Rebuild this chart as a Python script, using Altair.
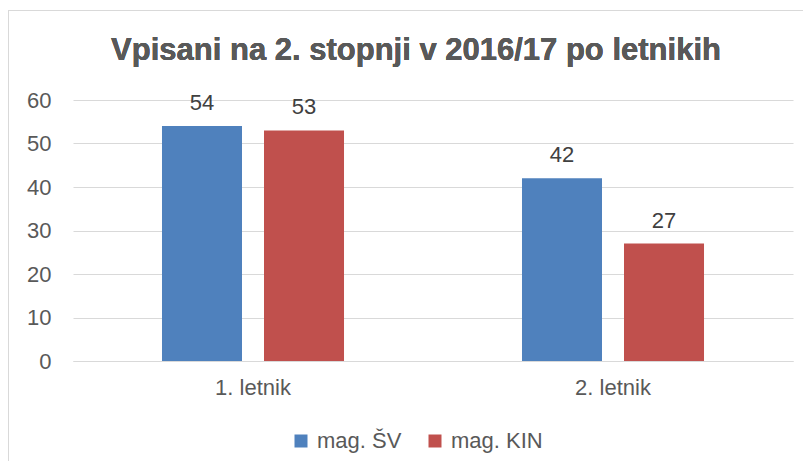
import altair as alt
import pandas as pd

categories = ["1. letnik", "2. letnik"]
series = ["mag. ŠV", "mag. KIN"]
values_sv = [54, 42]
values_kin = [53, 27]
colors = ["#4F81BD", "#C0504D"]
title_text = "Vpisani na 2. stopnji v 2016/17 po letnikih"

rows = []
for i, c in enumerate(categories):
    rows.append({"letnik": c, "program": series[0], "value": values_sv[i]})
    rows.append({"letnik": c, "program": series[1], "value": values_kin[i]})
df = pd.DataFrame(rows)

FONT = "Liberation Sans"
FS = 22

base = alt.Chart(df).encode(
    x=alt.X("letnik:N", sort=categories, title=None,
            scale=alt.Scale(paddingInner=0.4944, paddingOuter=0.2472),
            axis=alt.Axis(labelAngle=0, labelFontSize=FS, labelColor="#595959",
                          labelFont=FONT, ticks=False, domainColor="#D9D9D9",
                          grid=False, labelPadding=16)),
    xOffset=alt.XOffset("program:N", sort=series,
                        scale=alt.Scale(paddingInner=0.2157, paddingOuter=0)),
)

bars = base.mark_bar().encode(
    y=alt.Y("value:Q", title=None,
            scale=alt.Scale(domain=[0, 60]),
            axis=alt.Axis(values=[0, 10, 20, 30, 40, 50, 60], labelFontSize=FS,
                          labelColor="#595959", labelFont=FONT, ticks=False,
                          domain=False, grid=True, gridColor="#D9D9D9",
                          labelPadding=22)),
    color=alt.Color("program:N", sort=series,
                    scale=alt.Scale(domain=series, range=colors),
                    legend=alt.Legend(title=None, orient="none", direction="horizontal",
                                      legendX=217, legendY=330, symbolType="square",
                                      symbolSize=169, symbolStrokeWidth=0,
                                      labelFontSize=FS, labelColor="#595959",
                                      labelFont=FONT, labelOffset=5, columnPadding=22)),
)

labels = base.mark_text(fontSize=FS, font=FONT, color="#404040",
                        baseline="alphabetic", dy=-16).encode(
    y=alt.Y("value:Q"),
    text=alt.Text("value:Q"),
)

title = alt.Chart(df).mark_text(fontSize=31, font=FONT, fontWeight="bold",
                                color="#595959", baseline="alphabetic",
                                align="center").encode(
    x=alt.value(343), y=alt.value(-40), text=alt.value(title_text))

border_left = alt.Chart(df).mark_rule(color="#D9D9D9", clip=False).encode(
    x=alt.value(-64.5), y=alt.value(-90), y2=alt.value(400))
border_top = alt.Chart(df).mark_rule(color="#D9D9D9", clip=False).encode(
    x=alt.value(-64.5), x2=alt.value(740), y=alt.value(-89.5))

chart = alt.layer(border_left, border_top, title, bars, labels).properties(
    width=720, height=261,
    autosize=alt.AutoSizeParams(type="none"),
    padding={"left": 65, "top": 92, "right": 10, "bottom": 100},
).configure_view(stroke=None)

chart.save("out.html", embed_options={"renderer": "svg", "actions": False})
